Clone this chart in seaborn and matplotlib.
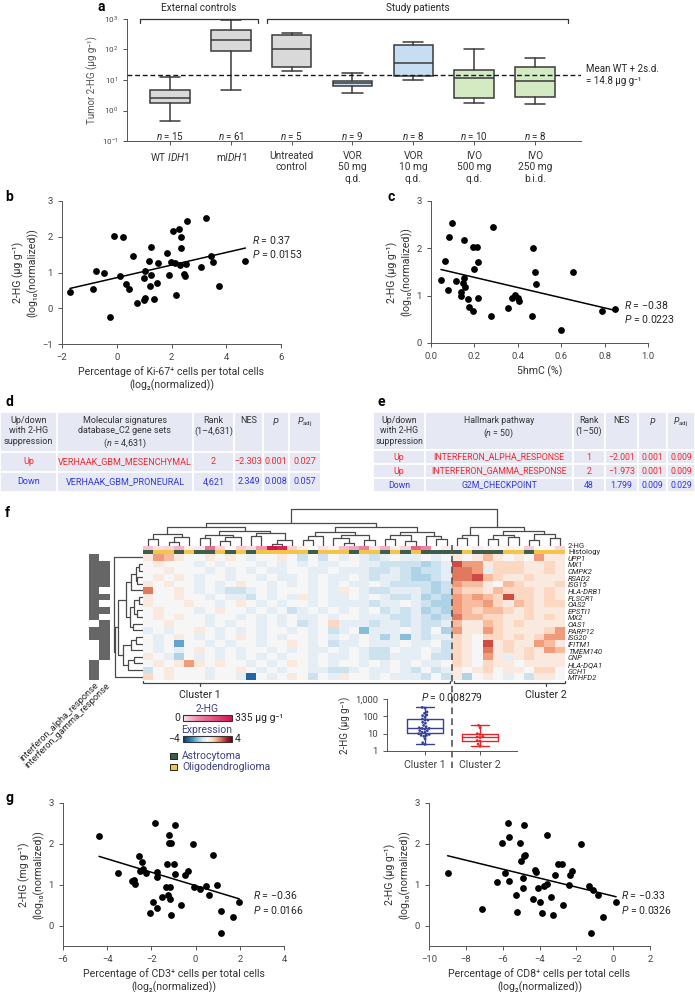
import numpy as np
import pandas as pd
import seaborn as sns
import matplotlib.pyplot as plt
import matplotlib.colors as mcolors
import matplotlib.transforms as mtransforms
from matplotlib.patches import Rectangle
from matplotlib.ticker import NullLocator, FormatStrFormatter

# ---------------- panel a: tumour 2-HG per group (box summaries, ug/g) ----------------
a_labels = ['WT $\\it{IDH1}$', 'm$\\it{IDH1}$', 'Untreated\ncontrol', 'VOR\n50 mg\nq.d.',
            'VOR\n10 mg\nq.d.', 'IVO\n500 mg\nq.d.', 'IVO\n250 mg\nb.i.d.']
a_n = [15, 61, 5, 9, 8, 10, 8]
a_kind = ['ctrl', 'ctrl', 'ctrl', 'vor', 'vor', 'ivo', 'ivo']
a_low = [0.46, 4.8, 19, 3.8, 10, 1.8, 1.6]
a_q1 = [1.8, 87, 26, 6.2, 13.5, 2.5, 2.8]
a_med = [2.6, 210, 100, 8.0, 37, 12, 9.0]
a_q3 = [4.6, 430, 310, 9.3, 138, 22, 27.5]
a_high = [12.3, 900, 340, 17.5, 170, 104, 54]
a_cut = 14.8

# ---------------- panel b: Ki-67 vs 2-HG ----------------
b_x = [-1.71, -0.87, -0.76, -0.45, -0.23, -0.10, 0.24, 0.12, 0.32, 0.45, 0.58, 0.75, 0.98, 1.02,
       1.00, 1.03, 1.19, 1.21, 1.24, 1.26, 1.35, 1.47, 1.52, 1.85, 1.90, 1.98, 2.06, 2.12, 2.18,
       2.27, 2.30, 2.34, 2.33, 2.44, 2.50, 2.52, 2.58, 3.07, 3.25, 3.45, 3.52, 3.75, 4.70]
b_y = [0.46, 0.53, 1.03, 0.98, -0.24, 2.01, 1.99, 0.89, 0.67, 0.54, 1.47, 0.16, 0.84, 0.28,
       0.22, 1.05, 1.32, 0.61, 0.92, 1.70, 0.25, 0.70, 1.26, 1.54, 0.92, 1.30, 2.17, 1.26, 0.37,
       2.21, 1.22, 2.00, 1.69, 0.96, 0.90, 1.23, 2.45, 1.14, 2.52, 1.47, 1.28, 0.61, 1.31]

# ---------------- panel c: 5hmC vs 2-HG ----------------
c_x = [0.046, 0.065, 0.077, 0.085, 0.095, 0.115, 0.138, 0.140, 0.148, 0.151, 0.154, 0.157,
       0.172, 0.174, 0.192, 0.195, 0.200, 0.211, 0.215, 0.215, 0.275, 0.286, 0.354, 0.372,
       0.389, 0.403, 0.406, 0.465, 0.469, 0.477, 0.486, 0.600, 0.655, 0.789, 0.848]
c_y = [1.34, 1.73, 1.11, 2.23, 2.53, 1.31, 0.99, 1.08, 1.26, 2.18, 1.37, 1.18, 0.94, 0.76,
       2.02, 0.67, 1.56, 2.02, 1.71, 0.96, 0.58, 2.46, 0.75, 0.96, 1.01, 0.96, 0.89, 0.58,
       2.01, 1.51, 1.25, 0.27, 1.51, 0.67, 0.72]

# ---------------- panel g: CD3 / CD8 vs 2-HG ----------------
g1_x = [-4.37, -3.52, -2.88, -2.77, -2.74, -2.56, -2.53, -2.42, -2.38, -2.24, -2.06, -1.91,
        -1.85, -1.75, -1.75, -1.75, -1.52, -1.34, -1.30, -1.27, -1.22, -1.22, -1.17, -1.17,
        -1.11, -1.11, -0.96, -0.95, -0.95, -0.65, -0.50, -0.35, -0.11, -0.08, 0.18, 0.47,
        0.59, 0.78, 0.96, 1.14, 1.16, 1.67, 1.97]
g1_y = [2.19, 1.28, 1.08, 1.12, 1.02, 1.70, 1.34, 1.56, 1.38, 1.29, 0.31, 0.58, 2.51, 1.30,
        1.18, 0.42, 0.71, 0.94, 1.50, 0.76, 2.22, 2.01, 0.94, 0.66, 2.01, 0.27, 1.50, 2.45,
        1.26, 0.50, 1.25, 1.34, 2.00, 0.94, 0.90, 0.96, 0.75, 1.73, 1.00, 0.35, -0.19, 0.22,
        0.58]
g2_x = [-8.99, -7.11, -6.29, -6.06, -5.88, -5.71, -5.68, -5.64, -5.30, -5.24, -5.08, -4.99,
        -4.90, -4.88, -4.86, -4.83, -4.81, -4.34, -4.25, -4.20, -4.07, -3.96, -3.87, -3.76,
        -3.60, -3.60, -3.40, -3.25, -3.18, -3.02, -2.77, -2.71, -2.39, -2.35, -2.26, -1.72,
        -1.30, -1.18, -1.07, -0.81, -0.54, 0.16]
g2_y = [1.28, 0.41, 1.07, 2.01, 1.28, 2.51, 2.18, 1.09, 0.76, 0.34, 2.02, 1.57, 1.17, 0.93,
        1.70, 2.45, 1.73, 0.66, 1.35, 1.30, 0.93, 0.58, 0.31, 0.96, 1.01, 2.22, 0.71, 0.27,
        1.24, 1.50, 1.50, 0.50, 1.00, 1.25, 1.33, 2.00, 0.96, -0.19, 0.88, 0.75, 0.22, 0.58]

# ---------------- panels d / e: tables ----------------
d_header = ['Up/down\nwith 2-HG\nsuppression', 'Molecular signatures\ndatabase_C2 gene sets\n($\\it{n}$ = 4,631)',
            'Rank\n(1–4,631)', 'NES', '$\\it{P}$', '$\\it{P}_{\\rm{adj}}$']
d_rows = [['Up', 'VERHAAK_GBM_MESENCHYMAL', '2', '−2.303', '0.001', '0.027'],
          ['Down', 'VERHAAK_GBM_PRONEURAL', '4,621', '2.349', '0.008', '0.057']]
e_header = ['Up/down\nwith 2-HG\nsuppression', 'Hallmark pathway\n($\\it{n}$ = 50)',
            'Rank\n(1–50)', 'NES', '$\\it{P}$', '$\\it{P}_{\\rm{adj}}$']
e_rows = [['Up', 'INTERFERON_ALPHA_RESPONSE', '1', '−2.001', '0.001', '0.009'],
          ['Up', 'INTERFERON_GAMMA_RESPONSE', '2', '−1.973', '0.001', '0.009'],
          ['Down', 'G2M_CHECKPOINT', '48', '1.799', '0.009', '0.029']]

# ---------------- panel f: clustered heatmap ----------------
f_genes = ['UPP1', 'MX1', 'CMPK2', 'RSAD2', 'ISG15', 'HLA-DRB1', 'PLSCR1', 'OAS2', 'EPSTI1', 'MX2',
           'OAS1', 'PARP12', 'ISG20', 'IFITM1', 'TMEM140', 'CNP', 'HLA-DQA1', 'GCH1', 'MTHFD2']
# expression level per cell, read as a code (a..g blue side, 1..7 red side)
f_codes = {'g': -3.2, 'f': -2.6, 'e': -2.1, 'd': -1.7, 'c': -1.25, 'b': -0.85, 'a': -0.4, '0': 0.0,
           '1': 0.4, '2': 0.85, '3': 1.25, '4': 1.7, '5': 2.1, '6': 2.6, '7': 3.2}
f_expr = [
    "14310" "01010" "a0010" "b0b0a" "0aba0" "aa0a0" "10131010411",
    "01000" "a0a00" "0a0a0" "a0aa0" "0aabb" "bbcba" "64412221121",
    "00100" "0a0a0" "a0aa0" "0aa0a" "aabba" "bcbba" "554a2221121",
    "01010" "a00a0" "0a0aa" "0a0aa" "0abaa" "bccba" "55632112111",
    "10100" "a0a01" "00a0a" "0a0a0" "aa0ab" "bbbcb" "43310321112",
    "50010" "a0abb" "a0a00" "0a0a1" "0abba" "aabcb" "32213222121",
    "10010" "0a0aa" "b0a0a" "1a0aa" "0a0ab" "bacbc" "43432622121",
    "10001" "00a01" "0a0a0" "0a0aa" "aabaa" "0abcc" "43342132122",
    "01000" "a0100" "a0a0b" "a0a0a" "0a0ba" "bacbc" "43233212111",
    "01010" "0a00a" "0a0a0" "aa0a0" "0aaab" "babcb" "53322112121",
    "00100" "0a0a0" "0a0a0" "ba02a" "aabaa" "babba" "31132121111",
    "a0a00" "10a0a" "0a00a" "0a0ba" "0daaa" "0ab0c" "41142111124",
    "0a010" "a0a01" "0a0a0" "0a0a0" "a0aca" "dabaa" "21022121244",
    "0a0e0" "0a0a0" "0a001" "0a0ba" "a0aaa" "0aa0b" "21061211431",
    "0a0a0" "10a0a" "00a0a" "0aa0a" "0abb0" "aa0ab" "21051212143",
    "10ac0" "a0a0a" "0a0a0" "0a0aa" "0abba" "aa0bb" "21041a12111",
    "01014" "10100" "a0a01" "0a0a0" "0a0a0" "a0aa0" "21021101111",
    "b0100" "0a001" "0a0a0" "0aabb" "a0aa0" "ab0ba" "10120110220",
    "20100" "0a00a" "g0a01" "0b0a1" "00a0a" "aab0b" "1c010a0b110",
]
f_hg = [40, 15, 20, 60, 8, 12, 150, 22, 5, 30, 18, 90, 330, 300, 25, 9, 3, 15, 7, 45, 70, 120,
        12, 60, 8, 20, 180, 110, 2.4, 10,
        9, 2.5, 10, 6.5, 4, 7, 3.8, 30, 1.9, 6, 22]
f_hist = "AOOAOAAOAOAOOOOOAOOOAOOAOAOAAA" "AOAAAOOAOOO"
f_cluster_sizes = [30, 11]
f_alpha = [1, 1, 1, 1, 1, 1, 1, 1, 1, 1, 0, 1, 1, 0, 0, 0, 1, 1, 1]
f_gamma = [0, 1, 1, 1, 1, 0, 1, 0, 1, 0, 1, 1, 1, 1, 1, 1, 0, 0, 0]
f_col_tree = [1.0,
              [0.62,
               [0.5, [0.32, [0.18, 0, 1], [0.24, [0.1, 2, 3], 4]],
                [0.4, [0.3, [0.2, 5, 6], [0.22, [0.12, 7, 8], 9]],
                 [0.34, [0.26, 10, 11], [0.15, [0.05, 12, 13], 14]]]],
               [0.5, [0.36, [0.25, [0.15, 15, 16], 17], [0.3, [0.2, 18, [0.08, 19, 20]], [0.16, 21, 22]]],
                [0.38, [0.28, [0.18, 23, 24], [0.12, 25, 26]], [0.26, 27, [0.17, 28, 29]]]]],
              [0.52, [0.3, [0.2, 30, 31], 32],
               [0.4, [0.3, [0.18, 33, 34], [0.22, 35, 36]], [0.32, [0.16, 37, 38], [0.2, 39, 40]]]]]
f_row_tree = [1.0, 0,
              [0.95,
               [0.85,
                [0.6, [0.4, [0.25, [0.15, 1, 2], [0.2, 3, 4]], 5],
                 [0.45, [0.3, [0.15, 6, 7], [0.2, 8, 9]], [0.35, 10, 11]]],
                [0.7, [0.4, [0.25, 12, 13], 14], [0.5, [0.3, 15, 16], 17]]],
               18]]

# ---------------- style ----------------
sns.set_style('ticks')
plt.rcParams['font.family'] = ['Roboto', 'DejaVu Sans']
plt.rcParams.update({
    'mathtext.fontset': 'custom', 'mathtext.rm': 'Roboto', 'mathtext.it': 'Roboto:italic',
    'mathtext.bf': 'Roboto:bold', 'font.size': 7, 'text.color': '#262626',
    'axes.labelcolor': '#333333', 'axes.edgecolor': '#555555', 'axes.linewidth': 0.7,
    'xtick.color': '#555555', 'ytick.color': '#555555',
    'xtick.labelcolor': '#444444', 'ytick.labelcolor': '#444444',
    'xtick.major.width': 0.7, 'ytick.major.width': 0.7,
    'xtick.major.size': 3, 'ytick.major.size': 3,
    'xtick.labelsize': 6.8, 'ytick.labelsize': 6.8, 'axes.labelsize': 7.5,
})

W, H = 695, 992
fig = plt.figure(figsize=(W / 100, H / 100), dpi=100)


def px_axes(x0, y0, x1, y1):
    return fig.add_axes([x0 / W, 1 - y1 / H, (x1 - x0) / W, (y1 - y0) / H])


ov = fig.add_axes([0, 0, 1, 1], zorder=10)
ov.set_xlim(0, W)
ov.set_ylim(H, 0)
ov.axis('off')

for letter, (lx, ly) in zip('abcdefg', [(98, 7), (5, 197), (388, 197), (5, 402), (378, 402), (5, 513), (5, 798)]):
    ov.text(lx, ly, letter, fontsize=10, fontweight='bold', va='center', ha='left', color='black')

# ---------------- a ----------------
ax = px_axes(127, 19, 581, 141)
fills = {'ctrl': '#d9d9d9', 'vor': '#c7ddf1', 'ivo': '#d4eac3'}
stats = [dict(whislo=lo, q1=q1, med=md, q3=q3, whishi=hi, fliers=[])
         for lo, q1, md, q3, hi in zip(a_low, a_q1, a_med, a_q3, a_high)]
edge = dict(color='#3a3a3a', linewidth=1.1)
bp = ax.bxp(stats, positions=range(len(stats)), widths=0.65, capwidths=0.33, patch_artist=True,
            showfliers=False, boxprops=dict(edgecolor='#3a3a3a', linewidth=1.1),
            medianprops=edge, whiskerprops=edge, capprops=edge)
for patch, kind in zip(bp['boxes'], a_kind):
    patch.set_facecolor(fills[kind])
ax.set_yscale('log')
ax.set_ylim(0.1, 1000)
ax.set_xlim(-0.71, 6.76)
ax.axhline(a_cut, color='#1a1a1a', lw=1.0, ls=(0, (3.5, 2)), zorder=5)
ax.set_yticks([0.1, 1, 10, 100, 1000], labels=['$10^{-1}$', '$10^{0}$', '$10^{1}$', '$10^{2}$', '$10^{3}$'],
              fontsize=5.8)
ax.yaxis.set_minor_locator(NullLocator())
ax.set_xticks(range(len(a_labels)), labels=a_labels, fontsize=7.3, linespacing=1.2, color='#333333')
ax.tick_params(axis='x', pad=4)
for i, n in enumerate(a_n):
    ax.text(i, 0.145, f'$\\it{{n}}$ = {n}', ha='center', va='center', fontsize=7)
ax.set_ylabel('Tumor 2-HG (µg g⁻¹)', fontsize=7, color='#555555', labelpad=3)
sns.despine(ax=ax)
tr = mtransforms.blended_transform_factory(ax.transData, ax.transAxes)
for (s, e), label in [((-0.5, 1.45), 'External controls'), ((1.6, 6.55), 'Study patients')]:
    ax.plot([s, s, e, e], [0.965, 1.0, 1.0, 0.965], transform=tr, clip_on=False, color='#333333', lw=0.9)
    ax.text((s + e) / 2, 1.09, label, transform=tr, ha='center', va='center', fontsize=7.2)
tr2 = mtransforms.blended_transform_factory(ax.transAxes, ax.transData)
ax.text(1.012, a_cut, 'Mean WT + 2s.d.\n= 14.8 µg g⁻¹', transform=tr2, ha='left', va='center',
        fontsize=7, linespacing=1.3)


# ---------------- scatter panels ----------------
def scatter_panel(box, x, y, xlim, ylim, xticks, yticks, xlabel, ylabel, stat, stat_xy, fmt=None):
    sax = px_axes(*box)
    sns.regplot(x=np.array(x), y=np.array(y), ax=sax, ci=None, truncate=True,
                scatter_kws=dict(s=24, color='black', linewidths=0, alpha=1),
                line_kws=dict(color='black', linewidth=1.1))
    sax.set_xlim(xlim)
    sax.set_ylim(ylim)
    sax.set_xticks(xticks)
    sax.set_yticks(yticks)
    if fmt:
        sax.xaxis.set_major_formatter(FormatStrFormatter(fmt))
    sax.set_xlabel(xlabel, fontsize=7.6, linespacing=1.3, labelpad=3)
    sax.set_ylabel(ylabel, fontsize=7.6, linespacing=1.3, labelpad=3)
    sax.text(stat_xy[0], stat_xy[1], stat, ha='left', va='center', fontsize=7.6, linespacing=1.25)
    sns.despine(ax=sax)
    return sax


ylab = '2-HG (µg g⁻¹)\n(log₁₀(normalized))'
scatter_panel((62, 201, 281, 344), b_x, b_y, (-2, 6), (-1, 3), [-2, 0, 2, 4, 6], [-1, 0, 1, 2, 3],
              'Percentage of Ki-67⁺ cells per total cells\n(log₂(normalized))', ylab,
              '$\\it{R}$ = 0.37\n$\\it{P}$ = 0.0153', (4.95, 1.72))
scatter_panel((431, 201, 648, 343), c_x, c_y, (0, 1), (0, 3), [0, 0.2, 0.4, 0.6, 0.8, 1.0], [0, 1, 2, 3],
              '5hmC (%)', ylab, '$\\it{R}$ = −0.38\n$\\it{P}$ = 0.0223', (0.89, 0.66), fmt='%.1f')
scatter_panel((63, 803, 284, 946), g1_x, g1_y, (-6, 4), (-0.5, 3), [-6, -4, -2, 0, 2, 4], [0, 1, 2, 3],
              'Percentage of CD3⁺ cells per total cells\n(log₂(normalized))',
              '2-HG (mg g⁻¹)\n(log₁₀(normalized))',
              '$\\it{R}$ = −0.36\n$\\it{P}$ = 0.0166', (2.6, 0.57))
scatter_panel((429, 803, 650, 946), g2_x, g2_y, (-10, 2), (-0.5, 3), [-10, -8, -6, -4, -2, 0, 2], [0, 1, 2, 3],
              'Percentage of CD8⁺ cells per total cells\n(log₂(normalized))', ylab,
              '$\\it{R}$ = −0.33\n$\\it{P}$ = 0.0326', (0.4, 0.57))


# ---------------- tables ----------------
def draw_table(x_edges, y_edges, header, rows, size):
    row_col = {'Up': '#f0282d', 'Down': '#2f37e0'}
    for r in range(len(y_edges) - 1):
        for c in range(len(x_edges) - 1):
            ov.add_patch(Rectangle((x_edges[c], y_edges[r]), x_edges[c + 1] - x_edges[c],
                                   y_edges[r + 1] - y_edges[r], facecolor='#e6e8f3', edgecolor='white', lw=1.3))
    for c, txt in enumerate(header):
        ov.text((x_edges[c] + x_edges[c + 1]) / 2, y_edges[0] + 4, txt, ha='center', va='top',
                fontsize=size, linespacing=1.2, color='#333333')
    for r, vals in enumerate(rows):
        yc = (y_edges[r + 1] + y_edges[r + 2]) / 2
        for c, txt in enumerate(vals):
            ov.text((x_edges[c] + x_edges[c + 1]) / 2, yc, txt, ha='center', va='center',
                    fontsize=size, color=row_col[vals[0]])


draw_table([0, 57, 193, 234, 263, 289, 321], [412, 452, 472, 492], d_header, d_rows, 6.5)
draw_table([373, 425, 573, 605, 638, 667, 695], [412, 450, 464, 478, 492], e_header, e_rows, 6.3)

# ---------------- f: heatmap ----------------
hx0, hx1, hy0, hy1 = 143, 565, 554, 680
n_cols = sum(f_cluster_sizes)
cell_w = (hx1 - hx0) / n_cols
row_h = (hy1 - hy0) / len(f_genes)
expr = pd.DataFrame([[f_codes[ch] for ch in row] for row in f_expr], index=f_genes)

ax_h = px_axes(hx0, hy0, hx1, hy1)
sns.heatmap(expr, ax=ax_h, cmap='RdBu_r', vmin=-4, vmax=4, cbar=False, xticklabels=False, yticklabels=False)

hg_cmap = mcolors.LinearSegmentedColormap.from_list(
    'hg', [(0, '#ffffff'), (0.06, '#f9d3de'), (0.3, '#ee8aa8'), (1, '#d3134f')])
ax_a1 = px_axes(hx0, 545.5, hx1, 549.5)
sns.heatmap(np.array([f_hg]), ax=ax_a1, cmap=hg_cmap, vmin=0, vmax=335, cbar=False,
            xticklabels=False, yticklabels=False)
astro, oligo = '#3d5e48', '#f5c645'
ax_a2 = px_axes(hx0, 549.5, hx1, 553.5)
sns.heatmap(np.array([[0 if h == 'A' else 1 for h in f_hist]]), ax=ax_a2,
            cmap=mcolors.ListedColormap([astro, oligo]), vmin=0, vmax=1, cbar=False,
            xticklabels=False, yticklabels=False)


def draw_tree(tax, node, top):
    if isinstance(node, int):
        return node + 0.5, 0.0
    h, left, right = node
    pl, hl = draw_tree(tax, left, top)
    pr, hr = draw_tree(tax, right, top)
    pos, hts = [pl, pl, pr, pr], [hl, h, h, hr]
    if top:
        tax.plot(pos, hts, color='#4a4a4a', lw=0.9)
    else:
        tax.plot(hts, pos, color='#4a4a4a', lw=0.9)
    return (pl + pr) / 2, h


ax_td = px_axes(hx0, 508, hx1, 545.5)
draw_tree(ax_td, f_col_tree, True)
ax_td.set_xlim(0, n_cols)
ax_td.set_ylim(0, 1.03)
ax_td.axis('off')

ax_ld = px_axes(113, hy0, hx0, hy1)
draw_tree(ax_ld, f_row_tree, False)
ax_ld.set_ylim(len(f_genes), 0)
ax_ld.set_xlim(1.03, 0)
ax_ld.axis('off')

ax_m = px_axes(89, hy0, 110, hy1)
sns.heatmap(pd.DataFrame({'alpha': f_alpha, 'gamma': f_gamma}), ax=ax_m,
            cmap=mcolors.ListedColormap(['white', '#666666']), vmin=0, vmax=1, cbar=False,
            xticklabels=False, yticklabels=False)
ov.text(97, 684, 'interferon_alpha_response', rotation=45, rotation_mode='anchor', ha='right', va='center',
        fontsize=6.6)
ov.text(109, 684, 'interferon_gamma_response', rotation=45, rotation_mode='anchor', ha='right', va='center',
        fontsize=6.6)

for i, g in enumerate(f_genes):
    ov.text(hx1 + 3, hy0 + (i + 0.5) * row_h + 1.5, g, style='italic', fontsize=5.5, va='center', ha='left')
ov.text(hx1 + 3, 545.8, '2-HG', fontsize=5.5, va='center', ha='left')
ov.text(hx1 + 3, 552.3, 'Histology', fontsize=5.5, va='center', ha='left')

# cluster brackets and split line
split_x = hx0 + f_cluster_sizes[0] * cell_w
for s, e, lab_x, lab in [(hx0, split_x - 2, 200, 'Cluster 1'), (split_x + 2, hx1, 546, 'Cluster 2')]:
    ov.plot([s, s, e, e], [680.5, 683, 683, 680.5], color='#444444', lw=0.9)
    ov.plot([lab_x, lab_x], [683, 685.5], color='#444444', lw=0.9)
    ov.text(lab_x, 695, lab, ha='center', va='center', fontsize=7.6)
ov.plot([split_x, split_x], [545, 768], color='#555555', lw=1.2, ls=(0, (4, 2.5)))

# colour keys
cax1 = px_axes(183, 715, 232, 721)
cb1 = fig.colorbar(plt.cm.ScalarMappable(norm=mcolors.Normalize(0, 335), cmap=hg_cmap), cax=cax1,
                   orientation='horizontal')
cax2 = px_axes(183, 736, 232, 742)
cb2 = fig.colorbar(plt.cm.ScalarMappable(norm=mcolors.Normalize(-4, 4), cmap='RdBu_r'), cax=cax2,
                   orientation='horizontal')
for cb in (cb1, cb2):
    cb.set_ticks([])
    cb.outline.set_linewidth(0.8)
    cb.outline.set_edgecolor('#333333')
navy = '#3b4184'
ov.text(207, 709, '2-HG', ha='center', va='center', fontsize=7.5, color=navy)
ov.text(180, 718, '0', ha='right', va='center', fontsize=7.5)
ov.text(235, 718, '335 µg g⁻¹', ha='left', va='center', fontsize=7.5)
ov.text(207, 730, 'Expression', ha='center', va='center', fontsize=7.5, color=navy)
ov.text(180, 739, '−4', ha='right', va='center', fontsize=7.5)
ov.text(235, 739, '4', ha='left', va='center', fontsize=7.5)
for yy, col, lab in [(753, astro, 'Astrocytoma'), (764, oligo, 'Oligodendroglioma')]:
    ov.add_patch(Rectangle((170, yy), 6.5, 6, facecolor=col, edgecolor='#222222', lw=0.7))
    ov.text(182, yy + 3, lab, ha='left', va='center', fontsize=7.5, color=navy)

# small box plot of 2-HG by cluster
clusters = ['Cluster 1'] * f_cluster_sizes[0] + ['Cluster 2'] * f_cluster_sizes[1]
hg_df = pd.DataFrame({'cluster': clusters, 'hg': f_hg})
cl_pal = {'Cluster 1': '#34409a', 'Cluster 2': '#e4262b'}
ax_s = px_axes(387, 699, 517, 751)
sns.boxplot(data=hg_df, x='cluster', y='hg', hue='cluster', palette=cl_pal, fill=False, whis=(0, 100),
            width=0.64, linewidth=1.0, log_scale=True, showfliers=False, legend=False, ax=ax_s)
sns.swarmplot(data=hg_df, x='cluster', y='hg', hue='cluster', palette=cl_pal, size=2.0, legend=False,
              ax=ax_s)
ax_s.set_ylim(1, 1000)
ax_s.set_xlim(-0.69, 1.67)
ax_s.set_yticks([1, 10, 100, 1000], labels=['1', '10', '100', '1,000'], fontsize=6.8)
ax_s.yaxis.set_minor_locator(NullLocator())
ax_s.tick_params(axis='x', labelsize=7.6)
ax_s.set_xlabel('')
ax_s.set_ylabel('2-HG (µg g⁻¹)', fontsize=7, labelpad=3)
sns.despine(ax=ax_s)
ov.text(split_x, 697, '$\\it{P}$ = 0.008279', ha='center', va='center', fontsize=7.5)

fig.savefig('out.png', dpi=100)
